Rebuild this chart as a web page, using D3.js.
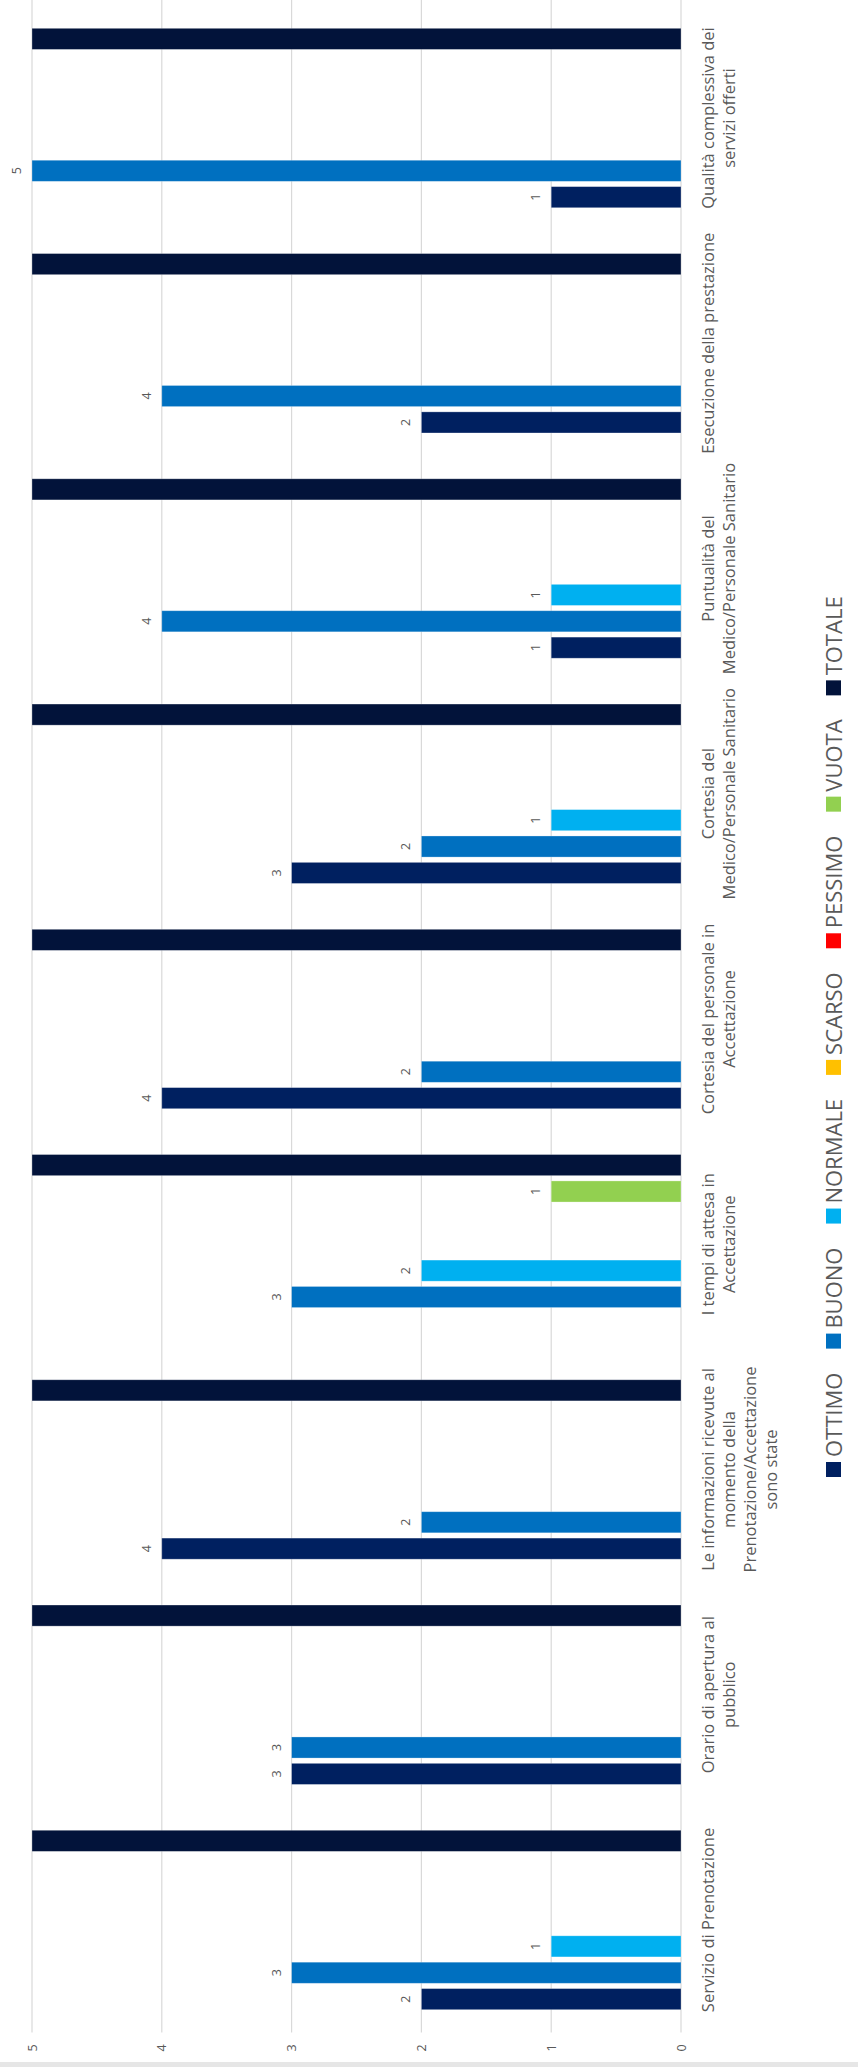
<!DOCTYPE html>
<html>
<head>
<meta charset="utf-8">
<script src="https://cdn.jsdelivr.net/npm/d3@7"></script>
<style>
  html, body { margin: 0; padding: 0; background: #ffffff; }
  svg { display: block; }
</style>
</head>
<body>
<svg id="chart" width="858" height="2067"></svg>
<script>
// ---- data (categories listed bottom → top as drawn) ----
const categories = [
  "Servizio di Prenotazione",
  "Orario di apertura al\npubblico",
  "Le informazioni ricevute al\nmomento della\nPrenotazione/Accettazione\nsono state",
  "I tempi di attesa in\nAccettazione",
  "Cortesia del personale in\nAccettazione",
  "Cortesia del\nMedico/Personale Sanitario",
  "Puntualità del\nMedico/Personale Sanitario",
  "Esecuzione della prestazione",
  "Qualità complessiva dei\nservizi offerti"
];
const seriesNames = ["OTTIMO", "BUONO", "NORMALE", "SCARSO", "PESSIMO", "VUOTA", "TOTALE"];
const ottimo  = [2, 3, 4, null, 4, 3, 1, 2, 1];
const buono   = [3, 3, 2, 3, 2, 2, 4, 4, 5];
const normale = [1, null, null, 2, null, 1, 1, null, null];
const scarso  = [null, null, null, null, null, null, null, null, null];
const pessimo = [null, null, null, null, null, null, null, null, null];
const vuota   = [null, null, null, 1, null, null, null, null, null];
const totale  = [6, 6, 6, 6, 6, 6, 6, 6, 6];
const tickValues = [0, 1, 2, 3, 4, 5];
const seriesColors = ["#002060", "#0070C0", "#00B0F0", "#FFC000", "#FF0000", "#92D050", "#02133A"];

const seriesValues = [ottimo, buono, normale, scarso, pessimo, vuota, totale];
const axisMax = 5;

const svg = d3.select("#chart");

// scales
const x = d3.scaleLinear().domain([0, axisMax]).range([681, 32]);
const y = d3.scaleBand().domain(categories).range([2032.6, 5.4]).paddingInner(0.18).paddingOuter(0.09);
const ySub = d3.scaleBand().domain(seriesNames).range([y.bandwidth(), 0]).paddingInner(0.2).paddingOuter(0.1);

// gridlines
svg.append("g").selectAll("line").data(tickValues).join("line")
  .attr("x1", d => x(d)).attr("x2", d => x(d))
  .attr("y1", 0).attr("y2", 2032.6)
  .attr("stroke", "#d9d9d9").attr("stroke-width", 1.2);

// tick labels (rotated)
svg.append("g").selectAll("text").data(tickValues).join("text")
  .attr("transform", d => `translate(${x(d) + 4.5},2048) rotate(-90)`)
  .attr("text-anchor", "middle")
  .attr("font-family", "'Open Sans', sans-serif")
  .attr("font-size", 12.5)
  .attr("fill", "#595959")
  .text(d => d);

// bars
const barData = [];
seriesNames.forEach((s, si) => {
  categories.forEach((c, ci) => {
    const v = seriesValues[si][ci];
    if (v !== null && v !== undefined) barData.push({ s, si, c, v });
  });
});

svg.append("g").selectAll("rect").data(barData).join("rect")
  .attr("x", d => x(Math.min(d.v, axisMax)))
  .attr("width", d => x(0) - x(Math.min(d.v, axisMax)))
  .attr("y", d => y(d.c) + ySub(d.s))
  .attr("height", ySub.bandwidth())
  .attr("fill", d => seriesColors[d.si])
  .attr("stroke", "#ffffff").attr("stroke-opacity", 0.35).attr("stroke-width", 0.8);

// data labels (hidden when value exceeds axis max, as in the original)
svg.append("g").selectAll("text").data(barData.filter(d => d.v <= axisMax)).join("text")
  .attr("transform", d => `translate(${x(d.v) - 11},${y(d.c) + ySub(d.s) + ySub.bandwidth() / 2}) rotate(-90)`)
  .attr("text-anchor", "middle")
  .attr("font-family", "'Open Sans', sans-serif")
  .attr("font-size", 12.5)
  .attr("fill", "#595959")
  .text(d => d.v);

// category labels (rotated, multi-line)
const catG = svg.append("g");
categories.forEach(c => {
  const lines = c.split("\n");
  const t = catG.append("text")
    .attr("transform", `translate(714,${y(c) + y.bandwidth() / 2}) rotate(-90)`)
    .attr("text-anchor", "middle")
    .attr("font-family", "'Open Sans', sans-serif")
    .attr("font-size", 16.5)
    .attr("fill", "#595959");
  lines.forEach((ln, i) => {
    t.append("tspan").attr("x", 0).attr("dy", i === 0 ? 0 : 21).text(ln);
  });
});

// legend (rotated, reading bottom → top)
const legG = svg.append("g");
const legFont = "'Open Sans', sans-serif";
const legSize = 22;
const sq = 15, gapAfterSq = 5, gapItems = 24;
let cur = 1477; // bottom edge of legend
const items = seriesNames.map((s, i) => ({ s, i }));
items.forEach(d => {
  legG.append("rect")
    .attr("x", 826).attr("y", cur - sq)
    .attr("width", sq).attr("height", sq)
    .attr("fill", seriesColors[d.i]);
  cur -= sq + gapAfterSq;
  const t = legG.append("text")
    .attr("transform", `translate(842,${cur}) rotate(-90)`)
    .attr("text-anchor", "start")
    .attr("font-family", legFont)
    .attr("font-size", legSize)
    .attr("fill", "#595959")
    .text(d.s);
  cur -= t.node().getComputedTextLength() + gapItems;
});

// bottom grey band
svg.append("rect").attr("x", 0).attr("y", 2062).attr("width", 858).attr("height", 5).attr("fill", "#e6e6e6");
</script>
</body>
</html>
